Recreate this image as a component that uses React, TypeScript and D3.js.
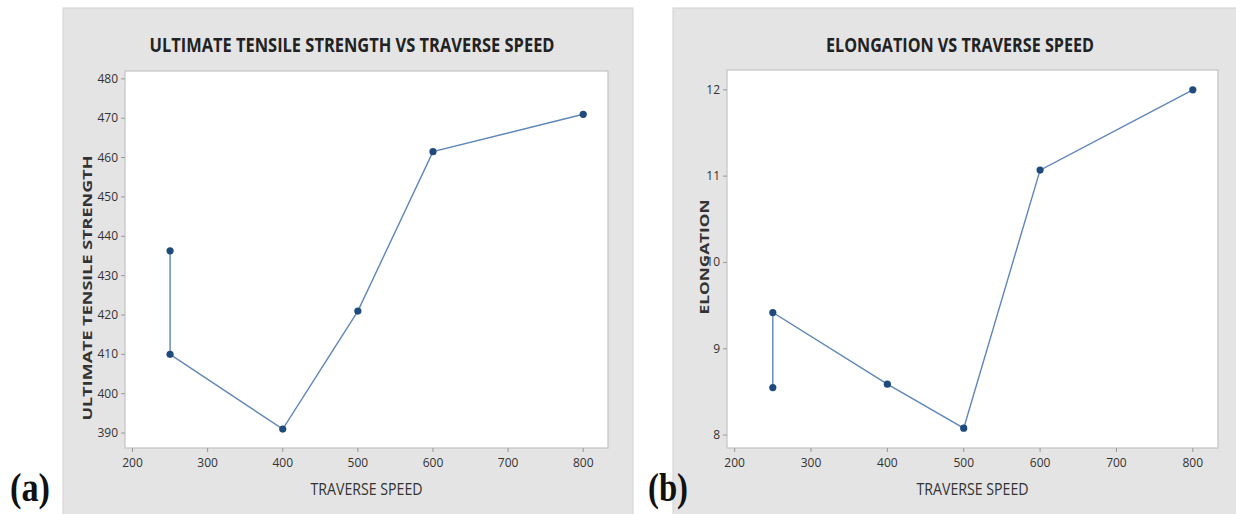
import React from "react";
import * as d3 from "d3";

const speedA = [250, 250, 400, 500, 600, 800];
const utsA = [436.3, 410, 391, 421, 461.5, 471];
const speedB = [250, 250, 400, 500, 600, 800];
const elongB = [8.55, 9.42, 8.59, 8.08, 11.07, 12.0];
const xTicks = [200, 300, 400, 500, 600, 700, 800];
const yTicksA = [390, 400, 410, 420, 430, 440, 450, 460, 470, 480];
const yTicksB = [8, 9, 10, 11, 12];

type PanelProps = {
  px0: number; px1: number;
  left: number; right: number; top: number; bottom: number;
  xs: number[]; ys: number[];
  yDomain: [number, number];
  yTicks: number[];
  title: string; titleX: number; titleLen: number;
  yTitle: string; yTitleX: number; yTitleY: number; yTitleLen: number;
  tag: string; tagX: number;
};

function Panel(p: PanelProps) {
  const x = d3.scaleLinear().domain([190, 833]).range([p.left, p.right]);
  const y = d3.scaleLinear().domain(p.yDomain).range([p.bottom, p.top]);
  const pts = p.xs.map((v, i) => [v, p.ys[i]] as [number, number]);
  const line = d3.line<[number, number]>().x(d => x(d[0])).y(d => y(d[1]));
  const tickFont = "'Liberation Sans Narrow', 'Open Sans', sans-serif";
  return (
    <g>
      <rect x={p.px0} y={8} width={p.px1 - p.px0} height={520} fill="#e4e4e4" stroke="#d2d2d2" strokeWidth={1} />
      <text x={p.titleX} y={52} textAnchor="middle" fontFamily="'Open Sans', sans-serif" fontWeight={700} fontSize={20} fill="#222" textLength={p.titleLen} lengthAdjust="spacingAndGlyphs">{p.title}</text>
      <rect x={p.left} y={p.top} width={p.right - p.left} height={p.bottom - p.top} fill="#fff" stroke="#c4c4c4" strokeWidth={1.2} />
      {xTicks.map(t => (
        <g key={"x" + t}>
          <line x1={x(t)} x2={x(t)} y1={p.bottom} y2={p.bottom + 4} stroke="#999" />
          <text x={x(t)} y={p.bottom + 19} textAnchor="middle" fontFamily={tickFont} fontSize={12} fill="#333">{t}</text>
        </g>
      ))}
      {p.yTicks.map(t => (
        <g key={"y" + t}>
          <line x1={p.left - 4} x2={p.left} y1={y(t)} y2={y(t)} stroke="#999" />
          <text x={p.left - 7} y={y(t) + 4} textAnchor="end" fontFamily={tickFont} fontSize={12} fill="#333">{t}</text>
        </g>
      ))}
      <text x={(p.left + p.right) / 2} y={495} textAnchor="middle" fontFamily="'Open Sans', sans-serif" fontSize={17} fill="#333" textLength={112} lengthAdjust="spacingAndGlyphs">TRAVERSE SPEED</text>
      <text transform={`translate(${p.yTitleX},${p.yTitleY}) rotate(-90)`} textAnchor="middle" fontFamily="'Open Sans', sans-serif" fontWeight={700} fontSize={13} fill="#333" textLength={p.yTitleLen} lengthAdjust="spacingAndGlyphs">{p.yTitle}</text>
      <path d={line(pts) || ""} fill="none" stroke="#5f86b8" strokeWidth={1.4} />
      {pts.map((d, i) => (
        <circle key={i} cx={x(d[0])} cy={y(d[1])} r={3.6} fill="#1f4a7d" />
      ))}
      <text x={p.tagX} y={501} fontFamily="'Liberation Serif', 'DejaVu Serif', serif" fontWeight={700} fontSize={40} fill="#111" textLength={40} lengthAdjust="spacingAndGlyphs">{p.tag}</text>
    </g>
  );
}

export default function App() {
  return (
    <svg width={1236} height={514} style={{ position: "absolute", left: 0, top: 0, background: "#fff" }}>
      <Panel px0={63} px1={633} left={125} right={608} top={71} bottom={448}
        xs={speedA} ys={utsA} yDomain={[386.2, 482]} yTicks={yTicksA}
        title="ULTIMATE TENSILE STRENGTH VS TRAVERSE SPEED" titleX={352} titleLen={405}
        yTitle="ULTIMATE TENSILE STRENGTH" yTitleX={92} yTitleY={288} yTitleLen={265}
        tag="(a)" tagX={10} />
      <Panel px0={673} px1={1240} left={727} right={1218} top={70} bottom={448}
        xs={speedB} ys={elongB} yDomain={[7.85, 12.23]} yTicks={yTicksB}
        title="ELONGATION VS TRAVERSE SPEED" titleX={960} titleLen={268}
        yTitle="ELONGATION" yTitleX={709} yTitleY={257} yTitleLen={115}
        tag="(b)" tagX={648} />
    </svg>
  );
}
